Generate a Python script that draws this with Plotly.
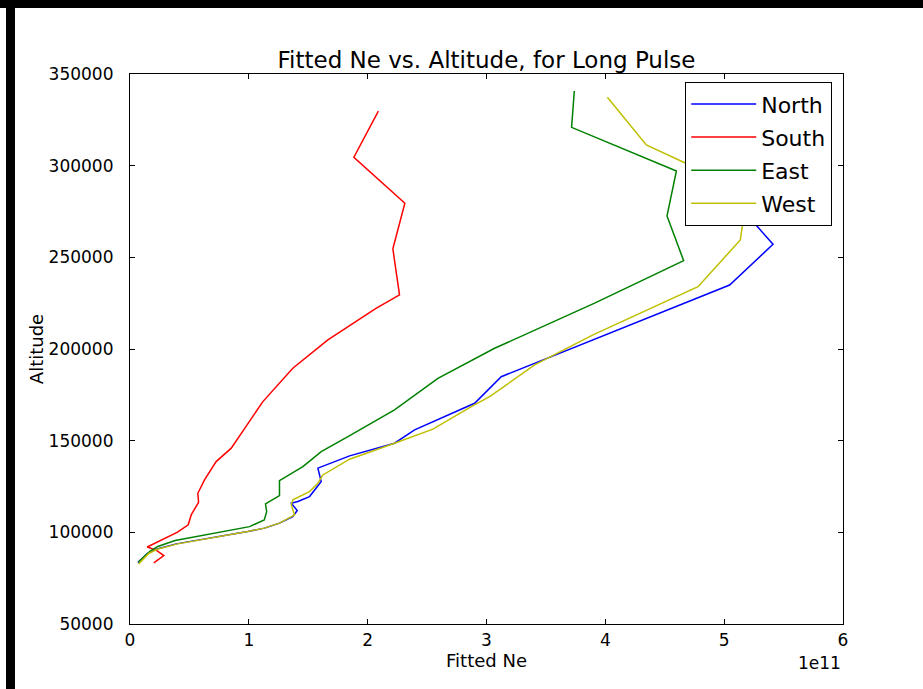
import plotly.graph_objects as go

SCALE = 1e11

# North (blue)
north_alt = [83500, 88600, 90800, 93700, 100400, 102300, 105000, 108600, 111900, 115900,
             116800, 119500, 127700, 135000, 141700, 148600, 155900, 170400, 184900,
             234900, 257100, 269500, 290000, 315000, 330000]
north_ne = [0.066, 0.15, 0.22, 0.389, 0.99, 1.132, 1.258, 1.37, 1.407, 1.357,
            1.413, 1.511, 1.609, 1.581, 1.848, 2.226, 2.395, 2.90, 3.124,
            5.046, 5.411, 5.243, 5.35, 5.15, 5.05]

# South (red)
south_alt = [83300, 87300, 90300, 92000, 100100, 104100, 109500, 116400, 121300, 128600,
             138600, 145900, 171300, 189500, 205000, 222200, 229500, 254600, 279500,
             304600, 329800]
south_ne = [0.20, 0.285, 0.22, 0.145, 0.40, 0.49, 0.515, 0.577, 0.571, 0.627,
            0.725, 0.852, 1.118, 1.370, 1.665, 2.07, 2.268, 2.212, 2.313,
            1.884, 2.09]

# East (green)
east_alt = [83800, 89800, 92300, 95500, 103100, 106800, 111300, 115500, 120000, 128200,
            135900, 144000, 152200, 166800, 184000, 200400, 225000, 248200, 272600,
            297100, 320900, 340700]
east_ne = [0.07, 0.17, 0.234, 0.38, 1.006, 1.13, 1.15, 1.14, 1.258, 1.258,
           1.455, 1.609, 1.834, 2.226, 2.591, 3.068, 3.91, 4.659, 4.519,
           4.598, 3.716, 3.739]

# West (yellow)
west_alt = [82800, 88600, 90800, 93700, 100400, 102300, 105000, 109500, 115000, 117700,
            122200, 126800, 131300, 139900, 148600, 156300, 168600, 174000, 191300,
            207700, 234000, 259500, 269500, 285000, 301600, 311300, 337300]
west_ne = [0.072, 0.16, 0.23, 0.40, 0.99, 1.13, 1.258, 1.385, 1.357, 1.37,
           1.511, 1.581, 1.623, 1.848, 2.226, 2.549, 2.872, 3.026, 3.405,
           3.896, 4.78, 5.136, 5.158, 5.25, 4.668, 4.345, 4.017]

x_ticks = [0, 1, 2, 3, 4, 5, 6]
y_ticks = [50000, 100000, 150000, 200000, 250000, 300000, 350000]

series = [
    ("North", north_ne, north_alt, "#0000ff"),
    ("South", south_ne, south_alt, "#ff0000"),
    ("East", east_ne, east_alt, "#008000"),
    ("West", west_ne, west_alt, "#bfbf00"),
]

FONT = "DejaVu Sans"
fig = go.Figure()
for name, ne, alt, col in series:
    fig.add_trace(go.Scatter(
        x=[v * SCALE for v in ne], y=alt, mode="lines", name=name,
        legendgroup=name,
        line=dict(color=col, width=1.5),
    ))

W, H = 923, 689
L, R, T, B = 130, 80, 74, 65
pw, ph = W - L - R, H - T - B


def px_x(p):
    return (p - L) / pw


def px_y(p):
    return (H - B - p) / ph


fig.update_layout(
    width=W, height=H,
    margin=dict(l=L, r=R, t=T, b=B),
    paper_bgcolor="white", plot_bgcolor="white",
    font=dict(family=FONT, color="black", size=17),
    title=dict(text="Fitted Ne vs. Altitude, for Long Pulse",
               x=(L + pw / 2) / W, xanchor="center",
               y=1 - 60 / H, yanchor="middle", yref="container",
               font=dict(size=23, family=FONT, color="black")),
    xaxis=dict(range=[0, 6 * SCALE], tickvals=[v * SCALE for v in x_ticks],
               ticktext=[str(v) for v in x_ticks],
               ticks="inside", ticklen=5, tickcolor="black", tickwidth=1,
               showline=True, linecolor="black", linewidth=1.2, mirror="allticks",
               showgrid=False, zeroline=False,
               tickfont=dict(size=17, family=FONT),
               title=dict(text="Fitted Ne", font=dict(size=18, family=FONT), standoff=5)),
    yaxis=dict(range=[50000, 350000], tickvals=y_ticks,
               ticktext=[str(v) for v in y_ticks],
               ticks="inside", ticklen=5, tickcolor="black", tickwidth=1,
               ticklabelstandoff=12,
               showline=True, linecolor="black", linewidth=1.2, mirror="allticks",
               showgrid=False, zeroline=False,
               tickfont=dict(size=17, family=FONT),
               title=dict(text="Altitude", font=dict(size=18, family=FONT), standoff=0)),
    legend=dict(x=px_x(832), y=px_y(82), xanchor="right", yanchor="top",
                bgcolor="white", bordercolor="black", borderwidth=1.2,
                font=dict(size=22, family=FONT), tracegroupgap=1.5, itemwidth=65),
    showlegend=True,
)

# offset text for x axis
fig.add_annotation(text="1e11", xref="paper", yref="paper",
                   x=1.0, y=px_y(663), xanchor="right", yanchor="middle",
                   showarrow=False, font=dict(size=17, family=FONT, color="black"))

# black screen-edge bars of the reference picture
fig.add_shape(type="rect", xref="paper", yref="paper",
              x0=px_x(0), x1=px_x(W), y0=px_y(0), y1=px_y(8),
              fillcolor="black", line=dict(width=0), layer="above")
fig.add_shape(type="rect", xref="paper", yref="paper",
              x0=px_x(6), x1=px_x(15), y0=px_y(0), y1=px_y(H),
              fillcolor="black", line=dict(width=0), layer="above")

fig.write_html("out.html")
